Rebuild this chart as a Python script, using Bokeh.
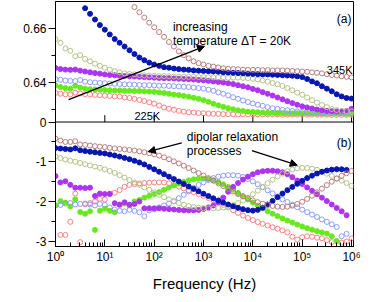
import math
import numpy as np
from bokeh.plotting import figure
from bokeh.models import (Range1d, FixedTicker, CustomJSTickFormatter, Label, Arrow,
                          NormalHead, Span)
from bokeh.embed import file_html
from bokeh.resources import INLINE

nan = float("nan")
FONT = "Liberation Sans"

# ---------------- data ----------------
log_freq = [0.0, 0.1, 0.2, 0.3, 0.4, 0.5, 0.6, 0.7, 0.8, 0.9,
            1.0, 1.1, 1.2, 1.3, 1.4, 1.5, 1.6, 1.7, 1.8, 1.9,
            2.0, 2.1, 2.2, 2.3, 2.4, 2.5, 2.6, 2.7, 2.8, 2.9,
            3.0, 3.1, 3.2, 3.3, 3.4, 3.5, 3.6, 3.7, 3.8, 3.9,
            4.0, 4.1, 4.2, 4.3, 4.4, 4.5, 4.6, 4.7, 4.8, 4.9,
            5.0, 5.1, 5.2, 5.3, 5.4, 5.5, 5.6, 5.7, 5.8, 5.9, 6.0]

temperatures = ["225K", "245K", "265K", "285K", "305K", "325K", "345K"]
colors = ["#ff8080", "#66ea1e", "#8c9dff", "#ad34f0", "#b4c487", "#0716b0", "#bb7d7d"]
filled = [False, True, False, True, False, True, False]

# log eps' (panel a)
eps1_225K = [0.6361, 0.6358, 0.6356, 0.6355, 0.6362, 0.6359, 0.6356, 0.6355, 0.6354, 0.6352,
             0.6351, 0.6350, 0.6348, 0.6347, 0.6344, 0.6342, 0.6339, 0.6335, 0.6331, 0.6326,
             0.6321, 0.6314, 0.6307, 0.6302, 0.6298, 0.6294, 0.6291, 0.6289, 0.6288, 0.6286,
             0.6285, 0.6284, 0.6283, 0.6283, 0.6282, 0.6282, 0.6281, 0.6281, 0.6281, 0.6281,
             0.6281, 0.6281, 0.6281, 0.6281, 0.6281, 0.6281, 0.6280, 0.6280, 0.6280, 0.6280,
             0.6280, 0.6280, 0.6280, 0.6280, 0.6280, 0.6280, 0.6279, 0.6279, 0.6279, 0.6279,
             0.6279]
eps1_245K = [0.6389, 0.6383, 0.6379, 0.6377, 0.6388, 0.6381, 0.6377, 0.6375, 0.6374, 0.6373,
             0.6372, 0.6371, 0.6370, 0.6370, 0.6369, 0.6369, 0.6368, 0.6368, 0.6367, 0.6366,
             0.6365, 0.6363, 0.6361, 0.6358, 0.6355, 0.6353, 0.6350, 0.6347, 0.6343, 0.6339,
             0.6334, 0.6328, 0.6321, 0.6315, 0.6309, 0.6304, 0.6300, 0.6296, 0.6294, 0.6291,
             0.6290, 0.6289, 0.6288, 0.6287, 0.6287, 0.6286, 0.6286, 0.6285, 0.6285, 0.6285,
             0.6285, 0.6285, 0.6285, 0.6284, 0.6284, 0.6284, 0.6284, 0.6284, 0.6284, 0.6283,
             0.6283]
eps1_265K = [0.6412, 0.6410, 0.6407, 0.6406, 0.6405, 0.6409, 0.6403, 0.6401, 0.6400, 0.6398,
             0.6397, 0.6396, 0.6395, 0.6394, 0.6393, 0.6393, 0.6392, 0.6391, 0.6390, 0.6390,
             0.6389, 0.6388, 0.6388, 0.6387, 0.6386, 0.6385, 0.6384, 0.6383, 0.6381, 0.6379,
             0.6377, 0.6373, 0.6369, 0.6363, 0.6358, 0.6352, 0.6345, 0.6339, 0.6333, 0.6327,
             0.6322, 0.6317, 0.6313, 0.6308, 0.6304, 0.6301, 0.6298, 0.6296, 0.6294, 0.6292,
             0.6291, 0.6290, 0.6289, 0.6288, 0.6288, 0.6288, 0.6287, 0.6287, 0.6287, 0.6287,
             0.6287]
eps1_285K = [0.6454, 0.6450, 0.6448, 0.6447, 0.6448, 0.6444, 0.6441, 0.6438, 0.6435, 0.6433,
             0.6430, 0.6428, 0.6427, 0.6425, 0.6424, 0.6423, 0.6422, 0.6421, 0.6420, 0.6419,
             0.6418, 0.6417, 0.6416, 0.6416, 0.6415, 0.6414, 0.6413, 0.6412, 0.6411, 0.6409,
             0.6408, 0.6406, 0.6404, 0.6402, 0.6400, 0.6397, 0.6394, 0.6390, 0.6386, 0.6382,
             0.6376, 0.6371, 0.6364, 0.6358, 0.6351, 0.6344, 0.6337, 0.6330, 0.6323, 0.6317,
             0.6311, 0.6307, 0.6303, 0.6299, 0.6296, 0.6294, 0.6293, 0.6292, 0.6292, 0.6294,
             0.6302]
eps1_305K = [0.6562, 0.6548, 0.6527, 0.6518, 0.6498, 0.6502, 0.6488, 0.6479, 0.6470, 0.6462,
             0.6455, 0.6448, 0.6442, 0.6438, 0.6434, 0.6432, 0.6430, 0.6428, 0.6427, 0.6426,
             0.6425, 0.6424, 0.6424, 0.6423, 0.6422, 0.6422, 0.6421, 0.6421, 0.6421, 0.6420,
             0.6420, 0.6420, 0.6419, 0.6419, 0.6418, 0.6418, 0.6418, 0.6418, 0.6417, 0.6416,
             0.6414, 0.6411, 0.6407, 0.6403, 0.6398, 0.6393, 0.6387, 0.6379, 0.6371, 0.6362,
             0.6354, 0.6344, 0.6334, 0.6325, 0.6316, 0.6308, 0.6301, 0.6297, 0.6294, 0.6293,
             0.6292]
eps1_325K = [nan, nan, nan, nan, nan, nan, 0.6677, 0.6656, 0.6635, 0.6614,
             0.6597, 0.6579, 0.6562, 0.6548, 0.6534, 0.6520, 0.6506, 0.6493, 0.6483, 0.6474,
             0.6467, 0.6462, 0.6457, 0.6455, 0.6452, 0.6450, 0.6448, 0.6447, 0.6445, 0.6444,
             0.6443, 0.6442, 0.6441, 0.6440, 0.6438, 0.6437, 0.6436, 0.6435, 0.6434, 0.6433,
             0.6432, 0.6431, 0.6430, 0.6430, 0.6429, 0.6428, 0.6427, 0.6426, 0.6425, 0.6423,
             0.6420, 0.6413, 0.6404, 0.6397, 0.6386, 0.6377, 0.6367, 0.6356, 0.6348, 0.6342,
             0.6340]
eps1_345K = [nan, nan, nan, nan, nan, nan, nan, nan, nan, nan,
             nan, nan, nan, nan, nan, nan, 0.6681, 0.6662, 0.6642, 0.6623,
             0.6606, 0.6588, 0.6570, 0.6551, 0.6534, 0.6516, 0.6502, 0.6490, 0.6479, 0.6472,
             0.6467, 0.6462, 0.6459, 0.6456, 0.6453, 0.6451, 0.6450, 0.6449, 0.6448, 0.6447,
             0.6447, 0.6447, 0.6446, 0.6446, 0.6445, 0.6445, 0.6445, 0.6444, 0.6443, 0.6442,
             0.6441, 0.6440, 0.6438, 0.6436, 0.6434, 0.6431, 0.6428, 0.6426, 0.6423, 0.6421,
             0.6419]

# log eps'' (panel b)
eps2_225K = [nan, -2.84, -2.84, -2.51, -1.80, -3.02, -2.07, -2.04, -2.00, -1.93,
             -1.95, -1.80, -1.78, -1.71, -1.63, -1.58, -1.56, -1.545, -1.533, -1.526,
             -1.521, -1.516, -1.521, -1.541, -1.582, -1.624, -1.668, -1.713, -1.762, -1.808,
             -1.857, -1.909, -1.963, -2.020, -2.081, -2.147, -2.216, -2.285, -2.351, -2.413,
             -2.467, -2.516, -2.560, -2.602, -2.644, -2.683, -2.725, -2.774, -2.885, -2.958,
             -2.897, -2.872, -2.885, -2.909, -2.921, -2.971, -3.020, -2.995, -3.032, -3.007,
             -2.926]
eps2_245K = [-2.098, -1.988, -2.025, -2.123, -1.943, -2.263, -2.307, -2.246, -2.713, -2.229,
             -2.179, -2.233, -2.270, -2.074, -2.049, -2.098, -2.000, -1.958, -1.902, -1.857,
             -1.811, -1.762, -1.705, -1.649, -1.595, -1.545, -1.504, -1.467, -1.440, -1.425,
             -1.423, -1.435, -1.464, -1.509, -1.565, -1.631, -1.705, -1.784, -1.865, -1.946,
             -2.025, -2.098, -2.172, -2.241, -2.305, -2.366, -2.423, -2.477, -2.528, -2.577,
             -2.624, -2.668, -2.708, -2.744, -2.776, -2.806, -2.872, -2.995, nan, nan,
             nan]
eps2_265K = [-2.098, -2.086, -2.049, -2.037, -2.074, -2.061, -2.049, -2.074, -2.098, -2.061,
             -2.086, -2.147, -2.197, -2.233, -2.246, -2.209, -2.233, -2.270, -2.369, -2.221,
             -2.197, -2.147, -2.098, -2.049, -1.988, -1.914, -1.828, -1.742, -1.656, -1.582,
             -1.516, -1.459, -1.410, -1.373, -1.349, -1.337, -1.337, -1.349, -1.381, -1.430,
             -1.491, -1.563, -1.639, -1.717, -1.796, -1.872, -1.943, -2.012, -2.079, -2.143,
             -2.204, -2.265, -2.327, -2.388, -2.450, -2.511, -2.573, -2.639, -2.872, -2.811,
             nan]
eps2_285K = [-1.36, -1.52, -1.49, -1.58, -1.65, -1.65, -1.66, -1.65, -1.86, -1.80,
             -1.81, -1.81, -2.04, -2.08, -2.02, -2.08, -2.06, -2.00, -2.17, -2.17,
             -2.17, -2.17, -2.18, -2.19, -2.20, -2.21, -2.22, -2.22, -2.22, -2.21,
             -2.184, -2.147, -2.098, -2.025, -1.902, -1.754, -1.631, -1.533, -1.447, -1.373,
             -1.312, -1.263, -1.238, -1.226, -1.226, -1.238, -1.263, -1.312, -1.386, -1.472,
             -1.558, -1.644, -1.730, -1.816, -1.902, -1.988, -2.074, -2.160, -2.246, -2.344,
             nan]
eps2_305K = [-0.870, -0.907, -0.943, -0.975, -1.000, -1.029, -1.061, -1.091, -1.120, -1.152,
             -1.189, -1.231, -1.280, -1.337, -1.398, -1.459, -1.521, -1.582, -1.644, -1.705,
             -1.767, -1.828, -1.889, -1.946, -1.995, -2.039, -2.079, -2.111, -2.135, -2.155,
             -2.167, -2.172, -2.172, -2.165, -2.147, -2.123, -2.086, -2.037, -1.975, -1.902,
             -1.816, -1.725, -1.631, -1.538, -1.450, -1.369, -1.297, -1.238, -1.194, -1.165,
             -1.152, -1.155, -1.172, -1.204, -1.248, -1.300, -1.356, -1.415, -1.474, -1.533,
             -1.607]
eps2_325K = [-0.656, -0.666, -0.678, -0.690, -0.661, -0.710, -0.730, -0.747, -0.762, -0.776,
             -0.791, -0.816, -0.840, -0.870, -0.902, -0.936, -0.975, -1.017, -1.066, -1.128,
             -1.189, -1.251, -1.312, -1.373, -1.435, -1.496, -1.558, -1.619, -1.681, -1.742,
             -1.803, -1.862, -1.919, -1.973, -2.025, -2.074, -2.118, -2.157, -2.192, -2.216,
             -2.228, -2.209, -2.155, -2.074, -1.983, -1.889, -1.799, -1.713, -1.631, -1.553,
             -1.479, -1.410, -1.349, -1.295, -1.251, -1.219, -1.197, -1.187, -1.189, -1.204,
             nan]
eps2_345K = [-0.420, -0.464, -0.501, -0.501, -0.484, -0.563, -0.575, -0.592, -0.607, -0.619,
             -0.631, -0.649, -0.663, -0.676, -0.688, -0.703, -0.717, -0.737, -0.759, -0.784,
             -0.811, -0.845, -0.887, -0.936, -0.988, -1.042, -1.098, -1.157, -1.219, -1.283,
             -1.346, -1.410, -1.477, -1.543, -1.612, -1.681, -1.747, -1.811, -1.870, -1.921,
             -1.971, -2.015, -2.054, -2.086, -2.111, -2.128, -2.135, -2.128, -2.103, -2.061,
             -2.005, -1.934, -1.853, -1.767, -1.676, -1.587, -1.501, -1.423, -1.351, -1.287,
             -1.233]

eps1_series = [eps1_225K, eps1_245K, eps1_265K, eps1_285K, eps1_305K, eps1_325K, eps1_345K]
eps2_series = [eps2_225K, eps2_245K, eps2_265K, eps2_285K, eps2_305K, eps2_325K, eps2_345K]

x_ticks = [1, 10, 100, 1000, 10000, 100000, 1000000]
x_tick_labels = ["10\u2070", "10\u00b9", "10\u00b2", "10\u00b3", "10\u2074", "10\u2075", "10\u2076"]
x_minor = [m * 10 ** d for d in range(6) for m in range(2, 10)]
y1_ticks = [0.62525, 0.64, 0.66]
y1_tick_labels = ["0", "0.64", "0.66"]
y1_minor = [0.63, 0.65]
y2_ticks = [-3, -2, -1]
y2_tick_labels = ["-3", "-2", "-1"]
y2_minor = [-2.5, -1.5, -0.5]

freq = np.array([10 ** e for e in log_freq])

# ---------------- layout geometry ----------------
W, H = 364, 294
LEFT, RIGHT, TOP, BOTTOM = 55, 11, 1, 45
H_TOP, H_BOT = 122, 126                      # pixel heights of panels (a) and (b)
B_LO, B_HI = -3.13, 0.0                      # panel (b) range
A_LO, A_HI = 0.62525, 0.6702                 # panel (a) range
main_hi = (B_HI - B_LO) * H_TOP / H_BOT      # shared axis units above the separator
a_per_main = (A_HI - A_LO) / main_hi
top_range = Range1d(A_LO - (0.0 - B_LO) * a_per_main, A_HI)
b_per_px = (B_HI - B_LO) / H_BOT

def to_main(v):                              # panel (a) value -> shared axis units
    return (v - A_LO) / a_per_main

p = figure(width=W, height=H, x_axis_type="log", x_range=Range1d(1, 10 ** 6.04),
           y_range=Range1d(B_LO, main_hi), output_backend="svg", toolbar_location=None,
           min_border_left=LEFT, min_border_right=RIGHT, min_border_top=TOP,
           min_border_bottom=BOTTOM)
p.extra_y_ranges = {"top": top_range}
p.grid.visible = False
p.outline_line_color = "black"
p.outline_line_width = 1
p.background_fill_color = "white"
p.border_fill_color = "white"

# left axis carries both panels' ticks
left_ticks = y2_ticks + [to_main(v) for v in y1_ticks]
left_labels = y2_tick_labels + y1_tick_labels
left_minor = y2_minor + [to_main(v) for v in y1_minor]

def fmt(vals, labels):
    return CustomJSTickFormatter(args=dict(vals=vals, labels=labels),
                                 code="const i = vals.indexOf(tick); return i >= 0 ? labels[i] : '';")

ya = p.yaxis[0]
ya.ticker = FixedTicker(ticks=left_ticks, minor_ticks=left_minor)
ya.formatter = fmt(left_ticks, left_labels)
ya.major_tick_out = 7
ya.major_tick_in = 0
ya.minor_tick_out = 4
ya.minor_tick_in = 0
ya.major_label_standoff = 2

xa = p.xaxis[0]
xa.ticker = FixedTicker(ticks=x_ticks, minor_ticks=x_minor)
xa.formatter = fmt(x_ticks, x_tick_labels)
xa.major_tick_in = 7
xa.major_tick_out = 0
xa.minor_tick_in = 4
xa.minor_tick_out = 0
xa.major_label_standoff = 3
xa.axis_label = "Frequency (Hz)"
xa.axis_label_text_font_size = "15px"
xa.axis_label_standoff = 8

for ax in p.axis:
    ax.axis_line_color = "black"
    ax.major_tick_line_color = "black"
    ax.minor_tick_line_color = "black"
    ax.major_label_text_font = FONT
    ax.major_label_text_font_size = "12px"
    ax.major_label_text_color = "black"
    ax.axis_label_text_font = FONT
    ax.axis_label_text_font_style = "normal"
    ax.axis_label_text_color = "black"

# separator between the panels and the inward ticks of panel (a)'s frequency axis
p.add_layout(Span(location=0.0, dimension="width", line_color="black", line_width=1))
tick_len = 7 * b_per_px
p.segment(x0=x_ticks, y0=[0.0] * len(x_ticks), x1=x_ticks, y1=[tick_len] * len(x_ticks),
          line_color="black", line_width=1)

# data
for series, rng in ((eps1_series, "top"), (eps2_series, "default")):
    for vals, col, fl in zip(series, colors, filled):
        p.scatter(freq, np.array(vals, dtype=float), marker="circle", size=5,
                  line_color=col, line_width=1, y_range_name=rng,
                  fill_color=col if fl else None, fill_alpha=1.0 if fl else 0.0)

# annotations
def lab(x, y, text, size="12px", rng="default", angle=0.0, align="left", baseline="alphabetic"):
    p.add_layout(Label(x=x, y=y, text=text, text_font=FONT, text_font_size=size,
                       text_color="black", text_baseline=baseline, text_align=align,
                       angle=angle, y_range_name=rng))

def arrow(x0, y0, x1, y1, rng="default"):
    p.add_layout(Arrow(end=NormalHead(size=7, fill_color="black", line_color="black"),
                       x_start=x0, y_start=y0, x_end=x1, y_end=y1, y_range_name=rng,
                       line_color="black", line_width=1.3))

# rotated axis titles, one per panel
lab(10 ** -0.93, 0.6484, "log \u03b5'", "16px", "top", math.pi / 2, "center", "middle")
lab(10 ** -0.93, -1.607, "log \u03b5''", "16px", "default", math.pi / 2, "center", "middle")

lab(10 ** 2.38, 0.6607, "increasing", rng="top")
lab(10 ** 2.38, 0.6556, "temperature \u0394T = 20K", rng="top")
lab(10 ** 5.5, 0.6447, "345K", "11px", "top")
lab(10 ** 1.6, 0.6274, "225K", "11px", "top")
lab(10 ** 5.7, 0.6636, "(a)", rng="top")
arrow(10 ** 0.266, 0.6336, 10 ** 3.02, 0.6535, "top")

lab(10 ** 2.66, -0.38, "dipolar relaxation")
lab(10 ** 2.66, -0.735, "processes")
lab(10 ** 5.7, -0.53, "(b)")
arrow(10 ** 2.56, -0.526, 10 ** 1.88, -0.747)
arrow(10 ** 3.98, -0.722, 10 ** 4.9, -1.084)

open("out.html", "w").write(file_html(p, INLINE))
